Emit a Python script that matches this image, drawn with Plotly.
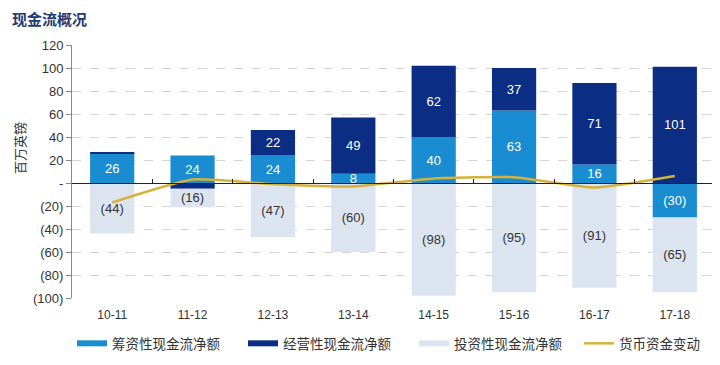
import plotly.graph_objects as go

categories = ["10-11", "11-12", "12-13", "13-14", "14-15", "15-16", "16-17", "17-18"]
financing = [26, 24, 24, 8, 40, 63, 16, -30]
operating = [1, -5, 22, 49, 62, 37, 71, 101]
investing = [-44, -16, -47, -60, -98, -95, -91, -65]
cash_change = [-17, 3, -1, -3, 4, 5, -4, 6]

y_ticks = [120, 100, 80, 60, 40, 20, 0, -20, -40, -60, -80, -100]


def fmt(v):
    if v == 0:
        return "-"
    return str(v) if v > 0 else "(%d)" % (-v)


def labels(vals):
    return [fmt(v) if abs(v) >= 8 else "" for v in vals]


C_FIN = "#1A8CD2"
C_OP = "#0B2D83"
C_INV = "#DCE4F0"
C_LINE = "#D6B13C"
FONT = "Liberation Sans, Noto Sans CJK SC, sans-serif"
CJK = "Noto Sans CJK SC, sans-serif"

W, H = 712, 357  # page body has an 8px margin

fig = go.Figure()
bar_series = [(financing, "筹资性现金流净额", C_FIN, "white"),
              (operating, "经营性现金流净额", C_OP, "white"),
              (investing, "投资性现金流净额", C_INV, "#333333")]
for vals, name, col, tcol in bar_series:
    fig.add_bar(x=categories, y=vals, name=name, marker_color=col, marker_line_width=0,
                text=labels(vals), textposition="inside", insidetextanchor="middle",
                textangle=0, constraintext="none", showlegend=False,
                textfont=dict(color=tcol, size=13, family=FONT))
fig.add_scatter(x=categories, y=cash_change, name="货币资金变动", mode="lines",
                line=dict(color=C_LINE, width=2.5, shape="spline", smoothing=0.5),
                xaxis="x2", showlegend=False)

# legend-only entries (wide flat swatches like the reference)
for vals, name, col, tcol in bar_series:
    fig.add_scatter(x=[None], y=[None], mode="lines", name=name,
                    line=dict(color=col, width=6), legend="legend")
fig.add_scatter(x=[None], y=[None], mode="lines", name="货币资金变动",
                line=dict(color=C_LINE, width=2.5), legend="legend2")

legend_common = dict(orientation="h", xanchor="left", y=-0.18, yanchor="middle",
                     font=dict(family=CJK, size=13.5, color="#333333"),
                     entrywidthmode="pixels", traceorder="normal",
                     bgcolor="rgba(0,0,0,0)")

fig.update_layout(
    width=W, height=H,
    margin=dict(l=64, r=5, t=37, b=67),
    paper_bgcolor="white", plot_bgcolor="white",
    barmode="relative", bargap=0.45,
    font=dict(family=FONT, size=12, color="#333333"),
    showlegend=True,
    legend=dict(x=0.0, entrywidth=126, **legend_common),
    legend2=dict(x=(586 - 79) / 643, entrywidth=90, **legend_common),
    title=dict(text="<b>现金流概况</b>", x=4 / W, xref="container", xanchor="left",
               y=1 - 12 / H, yref="container", yanchor="middle",
               font=dict(family=CJK, size=15, color="#1F3B73")),
    xaxis=dict(type="category", categoryarray=categories, range=[-0.5, 7.5],
               showline=False, ticks="", showgrid=False, zeroline=False,
               tickfont=dict(size=12, color="#333333"), ticklabelstandoff=8),
    xaxis2=dict(type="category", categoryarray=categories, range=[-0.5, 7.5],
                overlaying="x", anchor="free", position=100 / 220, side="bottom",
                showline=True, linecolor="#222222", linewidth=1,
                ticks="inside", tickson="boundaries", ticklen=4, tickcolor="#222222",
                showticklabels=False, showgrid=False, zeroline=False),
    yaxis=dict(range=[-100, 120], tickvals=y_ticks, ticktext=[fmt(v) for v in y_ticks],
               showline=True, linecolor="#888888", linewidth=1,
               ticks="outside", ticklen=5, tickcolor="#888888",
               showgrid=True, gridcolor="#D5D5D5", griddash="dash", gridwidth=1,
               zeroline=False, tickfont=dict(size=13, color="#333333")),
)

fig.add_annotation(text="百万英镑", textangle=-90, xref="paper", yref="paper",
                   x=(19 - 72) / 643, y=(298 - 148) / 253, showarrow=False,
                   xanchor="center", yanchor="middle",
                   font=dict(family=CJK, size=13, color="#333333"))

fig.write_html("out.html")
